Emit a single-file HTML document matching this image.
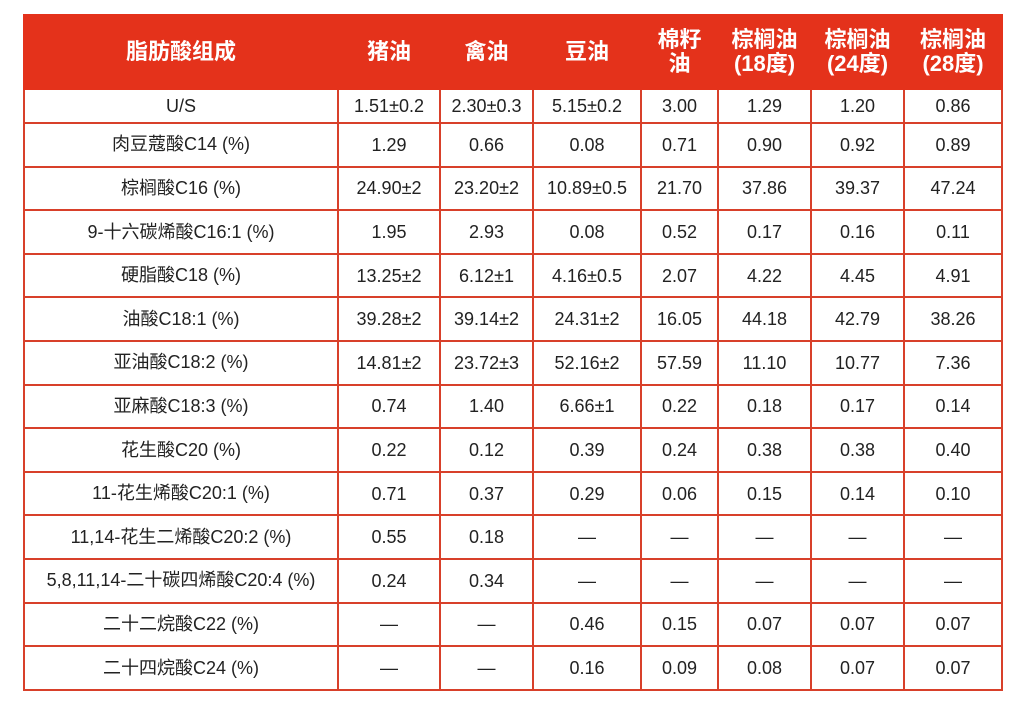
<!DOCTYPE html>
<html><head><meta charset="utf-8"><style>
html,body{margin:0;padding:0;background:#fff;width:1024px;height:707px;overflow:hidden}
table{position:absolute;left:23px;top:14px;border-collapse:collapse;table-layout:fixed;width:978px;
font-family:"Liberation Sans","Noto Sans CJK SC",sans-serif;font-size:18px;color:#222}
td{border:2px solid #d8402a;text-align:center;vertical-align:middle;padding:0;height:41.6px;white-space:nowrap;overflow:hidden;line-height:20px}
td span{display:inline-block;line-height:20px;height:20px;vertical-align:middle;position:relative;top:-1px}
tr.h td{background:#e4321b;color:#fff;font-weight:bold;font-size:22px;line-height:24px;height:72px;border-color:#e4321b}
tr.f td{height:32px}
</style></head><body>
<table>
<colgroup><col style="width:314px"><col style="width:102px"><col style="width:93px"><col style="width:108px"><col style="width:77px"><col style="width:93px"><col style="width:93px"><col style="width:98px"></colgroup>
<tr class="h"><td>脂肪酸组成</td><td>猪油</td><td>禽油</td><td>豆油</td><td>棉籽<br>油</td><td>棕榈油<br>(18度)</td><td>棕榈油<br>(24度)</td><td>棕榈油<br>(28度)</td></tr>
<tr class="f"><td>U/S</td><td>1.51±0.2</td><td>2.30±0.3</td><td>5.15±0.2</td><td>3.00</td><td>1.29</td><td>1.20</td><td>0.86</td></tr>
<tr><td><span>肉豆蔻酸C14 (%)</span></td><td>1.29</td><td>0.66</td><td>0.08</td><td>0.71</td><td>0.90</td><td>0.92</td><td>0.89</td></tr>
<tr><td><span>棕榈酸C16 (%)</span></td><td>24.90±2</td><td>23.20±2</td><td>10.89±0.5</td><td>21.70</td><td>37.86</td><td>39.37</td><td>47.24</td></tr>
<tr><td><span>9-十六碳烯酸C16:1 (%)</span></td><td>1.95</td><td>2.93</td><td>0.08</td><td>0.52</td><td>0.17</td><td>0.16</td><td>0.11</td></tr>
<tr><td><span>硬脂酸C18 (%)</span></td><td>13.25±2</td><td>6.12±1</td><td>4.16±0.5</td><td>2.07</td><td>4.22</td><td>4.45</td><td>4.91</td></tr>
<tr><td><span>油酸C18:1 (%)</span></td><td>39.28±2</td><td>39.14±2</td><td>24.31±2</td><td>16.05</td><td>44.18</td><td>42.79</td><td>38.26</td></tr>
<tr><td><span>亚油酸C18:2 (%)</span></td><td>14.81±2</td><td>23.72±3</td><td>52.16±2</td><td>57.59</td><td>11.10</td><td>10.77</td><td>7.36</td></tr>
<tr><td><span>亚麻酸C18:3 (%)</span></td><td>0.74</td><td>1.40</td><td>6.66±1</td><td>0.22</td><td>0.18</td><td>0.17</td><td>0.14</td></tr>
<tr><td><span>花生酸C20 (%)</span></td><td>0.22</td><td>0.12</td><td>0.39</td><td>0.24</td><td>0.38</td><td>0.38</td><td>0.40</td></tr>
<tr><td><span>11-花生烯酸C20:1 (%)</span></td><td>0.71</td><td>0.37</td><td>0.29</td><td>0.06</td><td>0.15</td><td>0.14</td><td>0.10</td></tr>
<tr><td><span>11,14-花生二烯酸C20:2 (%)</span></td><td>0.55</td><td>0.18</td><td>—</td><td>—</td><td>—</td><td>—</td><td>—</td></tr>
<tr><td><span>5,8,11,14-二十碳四烯酸C20:4 (%)</span></td><td>0.24</td><td>0.34</td><td>—</td><td>—</td><td>—</td><td>—</td><td>—</td></tr>
<tr><td><span>二十二烷酸C22 (%)</span></td><td>—</td><td>—</td><td>0.46</td><td>0.15</td><td>0.07</td><td>0.07</td><td>0.07</td></tr>
<tr><td><span>二十四烷酸C24 (%)</span></td><td>—</td><td>—</td><td>0.16</td><td>0.09</td><td>0.08</td><td>0.07</td><td>0.07</td></tr>
</table>
</body></html>
